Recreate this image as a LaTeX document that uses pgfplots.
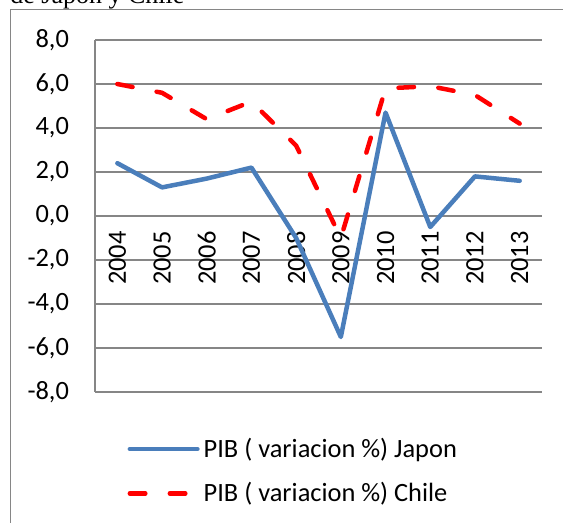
\documentclass[border=0pt]{standalone}
\usepackage{pgfplots}
\pgfplotsset{compat=1.18}
\usepackage{fontspec}
\setmainfont{Carlito}
\newfontfamily\titlefont{Liberation Serif}
\definecolor{japon}{HTML}{4A7EBB}
\definecolor{chile}{HTML}{FF0000}
\definecolor{grille}{HTML}{868686}

\begin{document}
\begin{tikzpicture}
% 1 px of the reference = 0.5pt, origin at the top left corner
\node[anchor=base west, inner sep=0pt, font=\titlefont\fontsize{13}{15}\selectfont] at (5pt,-2pt) {de Japon y Chile};
\draw[grille, line width=0.5pt] (5pt,-5pt) rectangle (320pt,-320pt);
\begin{axis}[
    at={(47.5pt,-196pt)}, anchor=south west,
    scale only axis, width=223.5pt, height=176pt,
    xmin=0.5, xmax=10.5, ymin=-8, ymax=8,
    axis x line*=middle, axis y line*=left,
    hide obscured x ticks=false, hide obscured y ticks=false,
    axis line style={grille, line width=0.75pt},
    xtick={1,...,10},
    xticklabels={2004,2005,2006,2007,2008,2009,2010,2011,2012,2013},
    ytick={-8,-6,...,8},
    ymajorgrids, grid style={grille, line width=0.75pt},
    major tick length=0pt,
    tick label style={font=\fontsize{13.2}{15}\selectfont},
    /pgf/number format/assume math mode=true,
    yticklabel style={/pgf/number format/.cd, fixed, fixed zerofill, precision=1, use comma, /tikz/.cd, xshift=-9.5pt},
    xticklabel style={rotate=90, anchor=east, inner xsep=7.5pt},
    legend style={draw=none, fill=none, inner sep=0pt,
        at={(axis description cs:0.072,-0.118)}, anchor=north west,
        font=\fontsize{13.2}{15}\selectfont, row sep=7pt},
    legend cell align=left,
    legend image code/.code={\draw[#1] (1.1pt,0pt) -- (34.9pt,0pt);},
    clip=false,
]
\addplot[japon, line width=2.25pt, line join=round, line cap=round] coordinates {
    (1,2.4) (2,1.3) (3,1.7) (4,2.2) (5,-1.0)
    (6,-5.5) (7,4.7) (8,-0.5) (9,1.8) (10,1.6)
};
\addplot[chile, line width=2.25pt, line join=round, line cap=round,
    dash pattern=on 7.75pt off 12.25pt] coordinates {
    (1,6.0) (2,5.6) (3,4.4) (4,5.2) (5,3.2)
    (6,-1.0) (7,5.8) (8,5.9) (9,5.5) (10,4.2)
};
\legend{PIB ( variacion \%) Japon, PIB ( variacion \%) Chile}
\end{axis}
\pgfresetboundingbox
\useasboundingbox (0pt,0pt) rectangle (281.5pt,-261.5pt);
\end{tikzpicture}
\end{document}
